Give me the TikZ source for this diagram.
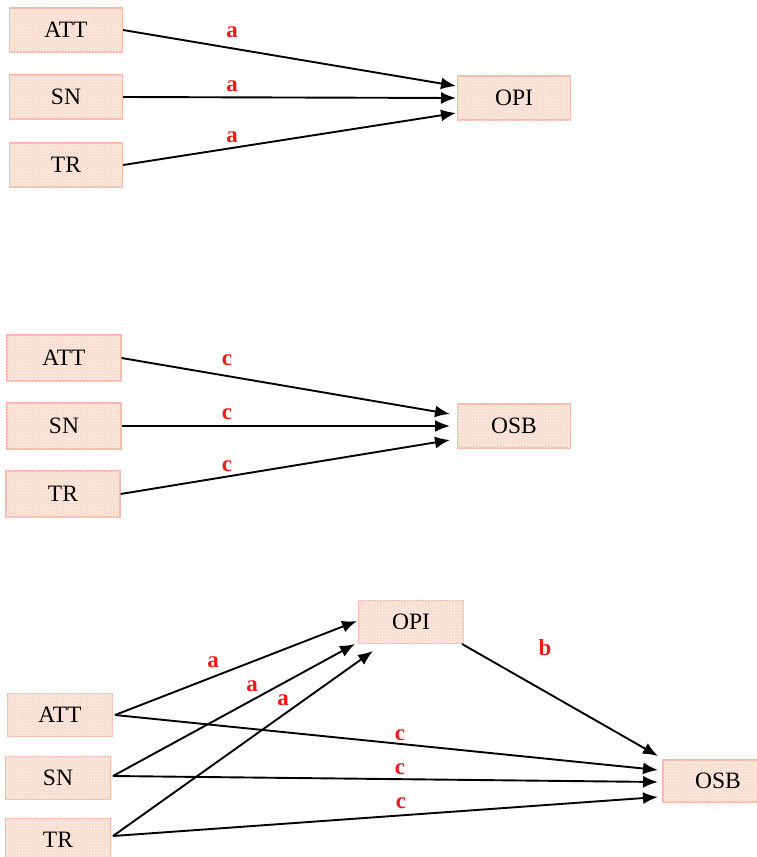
\documentclass[tikz,border=0pt]{standalone}
\usepackage{fontspec}
\setmainfont{Liberation Serif}
\usetikzlibrary{arrows.meta,patterns}
\definecolor{boxfill}{HTML}{FBDCCF}
\definecolor{boxline}{HTML}{F6B8A4}
\definecolor{lblred}{HTML}{F01818}
\begin{document}
\begin{tikzpicture}[x=1pt,y=-1pt,
  vbox/.style={draw=boxline, line width=1.2pt, fill=boxfill,
    postaction={pattern=crosshatch dots, pattern color=white},
    minimum width=113pt, minimum height=44pt, inner sep=0pt,
    font=\fontsize{23.5}{27}\selectfont},
  sbox/.style={vbox, minimum width=105pt, minimum height=43pt},
  conn/.style={line width=1.9pt, -{Latex[length=15pt,width=12pt]}},
  lbl/.style={text=lblred, font=\fontsize{23}{27}\selectfont\bfseries, inner sep=0pt}]
\useasboundingbox (0,0) rectangle (757,857);
% Panel 1
\node[vbox] (att1) at (66,30) {ATT};
\node[vbox] (sn1) at (66,97) {SN};
\node[vbox] (tr1) at (66,165) {TR};
\node[vbox] (opi1) at (514,98) {OPI};
\coordinate (e1a) at (456,86);
\coordinate (e1b) at (456,98);
\coordinate (e1c) at (456,113);
\draw[conn] (att1.east) -- (e1a);
\draw[conn] (sn1.east) -- (e1b);
\draw[conn] (tr1.east) -- (e1c);
\node[lbl] (la1) at (232,32) {a};
\node[lbl] (la2) at (232,86) {a};
\node[lbl] (la3) at (232,137) {a};
% Panel 2
\node[vbox, minimum width=114pt, minimum height=46pt] (att2) at (64,358) {ATT};
\node[vbox, minimum width=114pt, minimum height=46pt] (sn2) at (64,426) {SN};
\node[vbox, minimum width=114pt, minimum height=46pt] (tr2) at (63,494) {TR};
\node[vbox] (osb2) at (514,426) {OSB};
\coordinate (e2a) at (450,414);
\coordinate (e2b) at (450,426);
\coordinate (e2c) at (450,440);
\draw[conn] (att2.east) -- (e2a);
\draw[conn] (sn2.east) -- (e2b);
\draw[conn] (tr2.east) -- (e2c);
\node[lbl] (lc1) at (227,360) {c};
\node[lbl] (lc2) at (227,414) {c};
\node[lbl] (lc3) at (227,466) {c};
% Panel 3
\node[sbox] (opi3) at (411,622) {OPI};
\node[sbox] (att3) at (60,715) {ATT};
\node[sbox] (sn3) at (58,778) {SN};
\node[sbox] (tr3) at (58,840) {TR};
\node[sbox, minimum width=110pt, minimum height=42pt] (osb3) at (718,781) {OSB};
\coordinate (s3a) at (115,715);
\coordinate (s3b) at (113,776);
\coordinate (s3c) at (113,836);
\coordinate (p3a) at (357,621);
\coordinate (p3b) at (355,644);
\coordinate (p3c) at (373,651);
\coordinate (o3s) at (462,644);
\coordinate (q3o) at (658,756);
\coordinate (q3a) at (658,770);
\coordinate (q3b) at (658,782);
\coordinate (q3c) at (658,797);
\draw[conn] (s3a) -- (p3a);
\draw[conn] (s3b) -- (p3b);
\draw[conn] (s3c) -- (p3c);
\draw[conn] (o3s) -- (q3o);
\draw[conn] (s3a) -- (q3a);
\draw[conn] (s3b) -- (q3b);
\draw[conn] (s3c) -- (q3c);
\node[lbl] (lp1) at (213,662) {a};
\node[lbl] (lp2) at (252,686) {a};
\node[lbl] (lp3) at (283,700) {a};
\node[lbl] (lb) at (545,648) {b};
\node[lbl] (lq1) at (400,735) {c};
\node[lbl] (lq2) at (400,769) {c};
\node[lbl] (lq3) at (401,803) {c};
\end{tikzpicture}
\end{document}
